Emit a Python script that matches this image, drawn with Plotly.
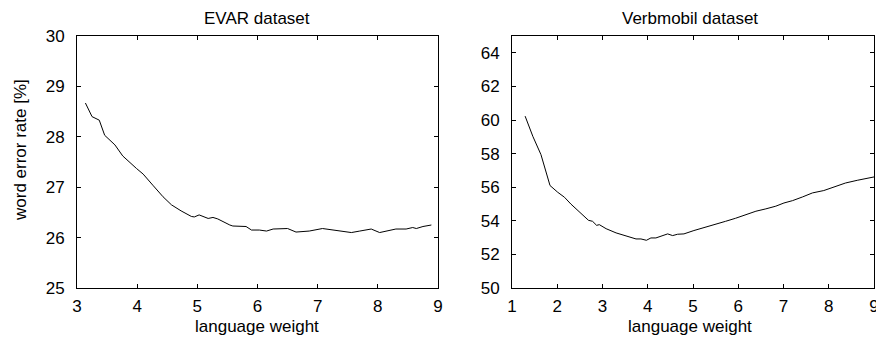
import plotly.graph_objects as go

# EVAR dataset
evar_x = [3.14, 3.25, 3.37, 3.46, 3.63, 3.76, 3.99, 4.10, 4.26, 4.43, 4.57, 4.73, 4.90, 4.95,
          5.03, 5.18, 5.26, 5.34, 5.54, 5.59, 5.81, 5.90, 6.03, 6.15, 6.26, 6.50, 6.64, 6.86,
          7.08, 7.25, 7.42, 7.56, 7.70, 7.89, 8.03, 8.14, 8.30, 8.47, 8.58, 8.64, 8.75, 8.89]
evar_y = [28.67, 28.40, 28.33, 28.03, 27.84, 27.62, 27.37, 27.26, 27.04, 26.81, 26.65, 26.53,
          26.42, 26.41, 26.45, 26.38, 26.40, 26.37, 26.25, 26.23, 26.22, 26.15, 26.15, 26.13,
          26.17, 26.18, 26.11, 26.13, 26.18, 26.15, 26.13, 26.10, 26.13, 26.17, 26.10, 26.13,
          26.17, 26.17, 26.20, 26.18, 26.22, 26.25]

# Verbmobil dataset
vm_x = [1.29, 1.46, 1.64, 1.84, 2.01, 2.16, 2.30, 2.45, 2.60, 2.69, 2.78, 2.87, 2.93, 3.08,
        3.30, 3.52, 3.74, 3.85, 3.97, 4.07, 4.18, 4.44, 4.55, 4.66, 4.80, 5.02, 5.25, 5.43,
        5.72, 5.94, 6.17, 6.39, 6.61, 6.83, 7.01, 7.20, 7.42, 7.64, 7.89, 8.15, 8.37, 8.63, 9.00]
vm_y = [60.23, 59.03, 57.94, 56.10, 55.70, 55.40, 55.00, 54.63, 54.31, 54.03, 53.97, 53.73,
        53.77, 53.53, 53.28, 53.08, 52.92, 52.92, 52.84, 52.98, 52.98, 53.22, 53.12, 53.20,
        53.22, 53.42, 53.59, 53.71, 53.97, 54.15, 54.37, 54.57, 54.71, 54.87, 55.06, 55.20,
        55.42, 55.66, 55.80, 56.06, 56.25, 56.41, 56.61]

titles = ["EVAR dataset", "Verbmobil dataset"]
x_title = "language weight"
y_title = "word error rate [%]"

W, H = 876, 338
FONT = dict(family="Liberation Sans, Arial, sans-serif", size=17, color="black")

fig = go.Figure()
fig.add_trace(go.Scatter(x=evar_x, y=evar_y, mode="lines", line=dict(color="black", width=1),
                         xaxis="x", yaxis="y", showlegend=False, cliponaxis=False))
fig.add_trace(go.Scatter(x=vm_x, y=vm_y, mode="lines", line=dict(color="black", width=1),
                         xaxis="x2", yaxis="y2", showlegend=False, cliponaxis=False))

def ax(**kw):
    d = dict(showline=True, linecolor="black", linewidth=1, mirror="ticks",
             ticks="inside", ticklen=4, tickcolor="black", tickwidth=1,
             showgrid=False, zeroline=False, tickfont=FONT, fixedrange=True,
             automargin=False, ticklabeloverflow="allow")
    d.update(kw)
    return d

ydom = [(H - 288) / H, (H - 36) / H]
fig.update_layout(
    width=W, height=H, margin=dict(l=0, r=0, t=0, b=0, pad=0), autosize=False,
    paper_bgcolor="white", plot_bgcolor="white", font=FONT,
    xaxis=ax(domain=[77 / W, 438 / W], range=[3, 9], dtick=1, anchor="y", ticklabelstandoff=3),
    yaxis=ax(domain=ydom, range=[25, 30], dtick=1, anchor="x", ticklabelstandoff=8),
    xaxis2=ax(domain=[512 / W, 874 / W], range=[1, 9], dtick=1, anchor="y2", ticklabelstandoff=3),
    yaxis2=ax(domain=ydom, range=[50, 65], tickvals=[50, 52, 54, 56, 58, 60, 62, 64],
              anchor="x2", ticklabelstandoff=8),
)

ann = []
for cx, t in [(257, titles[0]), (690, titles[1])]:
    ann.append(dict(text=t, x=cx / W, y=1 - 18 / H, xref="paper", yref="paper",
                    xanchor="center", yanchor="middle", showarrow=False, font=FONT))
    ann.append(dict(text=x_title, x=cx / W, y=1 - 326 / H, xref="paper", yref="paper",
                    xanchor="center", yanchor="middle", showarrow=False, font=FONT))
ann.append(dict(text=y_title, x=20 / W, y=1 - 150 / H, xref="paper", yref="paper",
                xanchor="center", yanchor="middle", showarrow=False, textangle=-90, font=FONT))
fig.update_layout(annotations=ann)

fig.write_html("out.html", config={"displayModeBar": False},
               post_script="document.body.style.margin='0';document.body.style.overflow='hidden';")
